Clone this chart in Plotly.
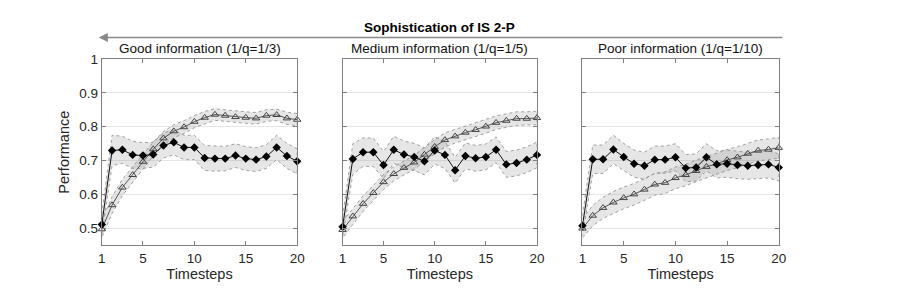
import plotly.graph_objects as go

W, H = 913, 296
timesteps = list(range(1, 21))

panel_titles = ["Good information (1/q=1/3)", "Medium information (1/q=1/5)", "Poor information (1/q=1/10)"]

# diamond series (filled black)
good_diamond = [0.512, 0.730, 0.732, 0.717, 0.715, 0.718, 0.745, 0.754, 0.739, 0.739,
                0.708, 0.706, 0.706, 0.715, 0.706, 0.703, 0.712, 0.739, 0.714, 0.698]
good_diamond_ci = [0.03, 0.045, 0.04, 0.04, 0.038, 0.037, 0.037, 0.037, 0.036, 0.036,
                   0.037, 0.037, 0.036, 0.035, 0.035, 0.035, 0.035, 0.036, 0.037, 0.037]
good_tri = [0.498, 0.569, 0.621, 0.658, 0.697, 0.734, 0.766, 0.787, 0.799, 0.815,
            0.827, 0.836, 0.833, 0.829, 0.827, 0.825, 0.833, 0.835, 0.825, 0.821]
good_tri_ci = [0.025, 0.025, 0.024, 0.023, 0.022, 0.021, 0.02, 0.019, 0.019, 0.018,
               0.018, 0.017, 0.017, 0.017, 0.017, 0.017, 0.017, 0.017, 0.018, 0.018]

med_diamond = [0.505, 0.705, 0.725, 0.725, 0.687, 0.732, 0.718, 0.711, 0.698, 0.730,
               0.717, 0.672, 0.714, 0.707, 0.711, 0.732, 0.689, 0.693, 0.703, 0.717]
med_diamond_ci = [0.03, 0.045, 0.042, 0.042, 0.04, 0.04, 0.04, 0.04, 0.04, 0.04,
                  0.04, 0.038, 0.038, 0.038, 0.038, 0.038, 0.038, 0.038, 0.038, 0.038]
med_tri = [0.496, 0.536, 0.573, 0.605, 0.637, 0.661, 0.679, 0.695, 0.718, 0.741,
           0.761, 0.772, 0.783, 0.791, 0.801, 0.812, 0.818, 0.824, 0.824, 0.826]
med_tri_ci = [0.025, 0.024, 0.023, 0.022, 0.022, 0.021, 0.021, 0.021, 0.021, 0.021,
              0.021, 0.02, 0.02, 0.02, 0.02, 0.02, 0.02, 0.02, 0.02, 0.02]

poor_diamond = [0.508, 0.704, 0.704, 0.733, 0.711, 0.691, 0.685, 0.703, 0.703, 0.710,
                0.678, 0.680, 0.710, 0.689, 0.691, 0.687, 0.685, 0.687, 0.689, 0.680]
poor_diamond_ci = [0.03, 0.042, 0.042, 0.042, 0.04, 0.04, 0.04, 0.04, 0.04, 0.04,
                   0.04, 0.04, 0.04, 0.04, 0.04, 0.04, 0.04, 0.04, 0.04, 0.04]
poor_tri = [0.500, 0.538, 0.561, 0.577, 0.590, 0.601, 0.615, 0.630, 0.635, 0.649,
            0.658, 0.670, 0.682, 0.691, 0.702, 0.710, 0.721, 0.730, 0.733, 0.738]
poor_tri_ci = [0.028, 0.03, 0.031, 0.032, 0.032, 0.032, 0.032, 0.032, 0.032, 0.032,
               0.032, 0.032, 0.031, 0.031, 0.031, 0.031, 0.031, 0.031, 0.031, 0.031]

x_ticks = [1, 5, 10, 15, 20]
y_ticks = [0.5, 0.6, 0.7, 0.8, 0.9, 1]
y_ticklabels = ["0.5", "0.6", "0.7", "0.8", "0.9", "1"]

panels = [
    (good_diamond, good_diamond_ci, good_tri, good_tri_ci),
    (med_diamond, med_diamond_ci, med_tri, med_tri_ci),
    (poor_diamond, poor_diamond_ci, poor_tri, poor_tri_ci),
]

FONT = "Liberation Sans, Arial, Helvetica, sans-serif"
x_px = [(91, 289), (335, 532), (578, 777)]
y_top, y_bot = 45, 236

fig = go.Figure()

def band(xs, mean, ci, xa, ya):
    upper = [m + c for m, c in zip(mean, ci)]
    lower = [m - c for m, c in zip(mean, ci)]
    fig.add_trace(go.Scatter(
        x=xs + xs[::-1], y=upper + lower[::-1], xaxis=xa, yaxis=ya,
        fill="toself", fillcolor="rgba(130,130,130,0.2)",
        line=dict(color="rgba(140,140,140,0.8)", width=1, dash="dot"),
        mode="lines", hoverinfo="skip", showlegend=False))

for i, (dia, dia_ci, tri, tri_ci) in enumerate(panels):
    xa = "x" if i == 0 else f"x{i+1}"
    ya = "y" if i == 0 else f"y{i+1}"
    band(timesteps, tri, tri_ci, xa, ya)
    band(timesteps, dia, dia_ci, xa, ya)
    fig.add_trace(go.Scatter(
        x=timesteps, y=tri, xaxis=xa, yaxis=ya, mode="lines+markers",
        line=dict(color="#555555", width=1),
        marker=dict(symbol="triangle-up-open", size=6.5, color="#444444", line=dict(width=1)),
        cliponaxis=False, showlegend=False))
    fig.add_trace(go.Scatter(
        x=timesteps, y=dia, xaxis=xa, yaxis=ya, mode="lines+markers",
        line=dict(color="#111111", width=1),
        marker=dict(symbol="diamond", size=6.5, color="black"),
        cliponaxis=False, showlegend=False))

layout = dict(
    width=W, height=H, margin=dict(l=0, r=0, t=0, b=0),
    paper_bgcolor="white", plot_bgcolor="white",
    font=dict(family=FONT, color="#262626", size=13),
    showlegend=False,
)

annotations = []
for i in range(3):
    sfx = "" if i == 0 else str(i + 1)
    x0, x1 = x_px[i]
    layout["xaxis" + sfx] = dict(
        domain=[x0 / W, x1 / W], anchor="y" + sfx, range=[1, 20],
        tickvals=x_ticks, ticktext=[str(t) for t in x_ticks],
        ticks="inside", ticklen=4, tickcolor="#7f7f7f",
        showline=True, linecolor="#7f7f7f", linewidth=1, mirror="ticks",
        showgrid=False, zeroline=False,
        tickfont=dict(size=13.5, color="#262626"),
        title=dict(text="Timesteps", font=dict(size=14.5, color="#262626"), standoff=0),
    )
    layout["yaxis" + sfx] = dict(
        domain=[1 - y_bot / H, 1 - y_top / H], anchor="x" + sfx, range=[0.45, 1],
        tickvals=y_ticks, ticktext=y_ticklabels if i == 0 else [""] * len(y_ticks),
        showticklabels=(i == 0),
        ticks="inside", ticklen=4, tickcolor="#7f7f7f",
        showline=True, linecolor="#7f7f7f", linewidth=1, mirror="ticks",
        showgrid=True, gridcolor="#e6e6e6", gridwidth=1, zeroline=False,
        tickfont=dict(size=13.5, color="#262626"),
    )
    annotations.append(dict(
        text=panel_titles[i], xref="paper", yref="paper",
        x=(x0 + x1) / 2 / W, y=1 - 34 / H, showarrow=False,
        font=dict(size=13.5, color="#111111"), xanchor="center", yanchor="middle"))

layout["yaxis"]["title"] = dict(text="Performance", font=dict(size=14.5, color="#262626"), standoff=6)

annotations.append(dict(
    text="<b>Sophistication of IS 2-P</b>", xref="paper", yref="paper",
    x=433 / W, y=1 - 13 / H, showarrow=False,
    font=dict(size=13.5, color="black"), xanchor="center", yanchor="middle"))
annotations.append(dict(
    text="", xref="paper", yref="paper", x=88 / W, y=1 - 23 / H,
    ax=685, ay=0, axref="pixel", ayref="pixel", showarrow=True, standoff=0,
    arrowhead=2, arrowsize=1.2, arrowwidth=1.5, arrowcolor="#888888"))
layout["annotations"] = annotations

fig.update_layout(**layout)
fig.write_html("out.html")
